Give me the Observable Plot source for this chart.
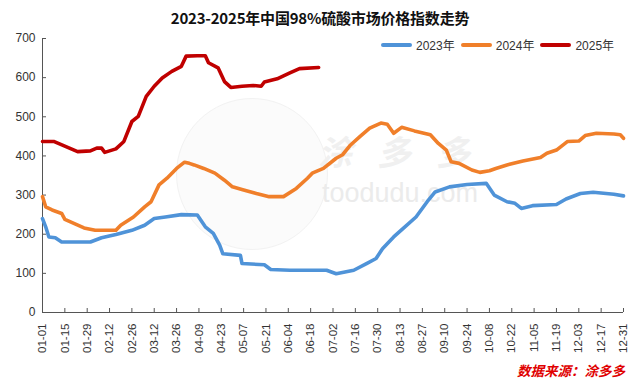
<!DOCTYPE html>
<html>
<head>
<meta charset="utf-8">
<script src="https://cdn.jsdelivr.net/npm/d3@7"></script>
<script src="https://cdn.jsdelivr.net/npm/@observablehq/plot@0.6"></script>
<style>
  html, body { margin: 0; padding: 0; background: #fff; }
  #wrap { position: relative; width: 640px; height: 385px; overflow: hidden; font-family: "Liberation Sans", Arial, sans-serif; }
  #wrap svg { position: absolute; left: 0; top: 0; }
  .title { position: absolute; left: 0; width: 640px; top: 7px; text-align: center; font-family: "Noto Sans CJK SC", sans-serif; font-weight: bold; font-size: 15px; color: #111; letter-spacing: -0.2px; }
  .legend { position: absolute; left: 381px; top: 36px; display: flex; align-items: center; font-size: 12px; color: #333; font-family: "Liberation Sans", "Noto Sans CJK SC", sans-serif; }
  .legend .sw { display: inline-block; width: 31px; height: 4px; border-radius: 2px; margin-right: 4px; }
  .legend .it { display: flex; align-items: center; margin-right: 6px; }
  .source { position: absolute; right: 15px; top: 362px; color: #e00000; font-family: "Noto Sans CJK SC", sans-serif; font-weight: bold; font-style: italic; font-size: 13.5px; line-height: 16px; }
  .wm1 { position: absolute; left: 318px; top: 134px; line-height: 34px; font-family: "Noto Sans CJK SC", sans-serif; font-weight: bold; font-style: italic; font-size: 34px; color: #f0f0f0; letter-spacing: 25px; }
  .wm2 { position: absolute; left: 322px; top: 181px; line-height: 24px; font-family: "Liberation Sans", Arial, sans-serif; font-size: 27px; color: #ebebeb; }
  .wm0 { position: absolute; left: 176px; top: 98px; width: 150px; height: 150px; border-radius: 50%; background: #fbfbfb; border: 1px solid #f2f2f2; }
</style>
</head>
<body>
<div id="wrap">
  <div class="wm0"></div>
  <div class="wm1">涂多多</div>
  <div class="wm2">toodudu.com</div>
  <div id="chart"></div>
  <div class="title">2023-2025年中国98%硫酸市场价格指数走势</div>
  <div class="legend" id="legend"></div>
  <div class="source">数据来源：涂多多</div>
</div>
<script>
const seriesNames = ["2023年", "2024年", "2025年"];
const seriesColors = ["#4F93D8", "#F07F2A", "#C00000"];

const tickLabels = ["01-01","01-15","01-29","02-12","02-26","03-12","03-26","04-09","04-23","05-07","05-21","06-04","06-18","07-02","07-16","07-30","08-13","08-27","09-10","09-24","10-08","10-22","11-05","11-19","12-03","12-17","12-31"];
const yTicks = [0, 100, 200, 300, 400, 500, 600, 700];

const dates2023 = ["01-01","01-03","01-05","01-09","01-13","01-31","02-07","02-16","02-26","03-06","03-12","03-19","03-29","04-08","04-13","04-18","04-22","04-24","05-05","05-06","05-20","05-24","06-05","06-28","07-04","07-15","07-23","07-29","08-02","08-09","08-15","08-23","08-30","09-04","09-13","09-24","10-06","10-11","10-19","10-24","10-28","11-04","11-19","11-25","12-04","12-12","12-25","12-31"];
const values2023 = [240,219,193,191,180,180,191,199,210,223,240,244,250,249,219,202,172,150,146,125,122,110,108,108,99,108,125,138,163,193,215,244,283,308,321,327,330,300,283,279,266,273,276,290,304,307,302,298];

const dates2024 = ["01-01","01-03","01-07","01-13","01-15","01-21","01-27","02-03","02-16","02-19","02-27","03-06","03-10","03-15","03-20","03-26","03-31","04-03","04-06","04-12","04-19","04-25","04-30","05-07","05-15","05-23","06-01","06-09","06-16","06-19","06-26","07-04","07-08","07-13","07-19","07-25","08-01","08-05","08-09","08-14","08-22","09-01","09-06","09-11","09-14","09-19","09-27","10-02","10-08","10-12","10-19","10-29","11-09","11-13","11-19","11-26","12-03","12-07","12-14","12-25","12-29","12-31"];
const values2024 = [296,270,262,253,238,227,216,210,210,223,244,270,283,326,343,368,384,381,377,368,356,338,321,313,304,296,296,317,343,356,368,394,403,428,450,471,484,481,458,473,464,454,432,415,385,381,364,358,362,368,377,387,396,407,415,437,438,452,458,456,454,445];

const dates2025 = ["01-01","01-08","01-23","01-31","02-04","02-07","02-09","02-16","02-21","02-26","03-02","03-07","03-12","03-17","03-23","03-29","04-01","04-08","04-13","04-15","04-21","04-25","04-29","05-06","05-13","05-18","05-20","05-28","06-05","06-11","06-23"];
const values2025 = [437,437,411,413,420,420,409,418,437,488,501,552,578,599,616,629,655,656,656,638,625,590,575,578,580,578,589,597,612,623,626];

const toDate = s => { const [m, d] = s.split("-").map(Number); return new Date(Date.UTC(2023, m - 1, d)); };

const rows = [];
[[dates2023, values2023], [dates2024, values2024], [dates2025, values2025]].forEach(([ds, vs], i) => {
  ds.forEach((d, j) => rows.push({ series: seriesNames[i], date: toDate(d), value: vs[j] }));
});
const tickDates = tickLabels.map(toDate);
const fmt = d3.utcFormat("%m-%d");

const chart = Plot.plot({
  width: 640,
  height: 385,
  marginLeft: 42,
  marginRight: 17,
  marginTop: 38,
  marginBottom: 73,
  style: { background: "transparent", fontFamily: "Liberation Sans, Arial, sans-serif", fontSize: "12px", color: "#333" },
  x: { type: "utc", domain: [tickDates[0], tickDates[tickDates.length - 1]], label: null },
  y: { domain: [0, 700], label: null },
  color: { domain: seriesNames, range: seriesColors },
  marks: [
    Plot.ruleY([0], { stroke: "#555", strokeWidth: 1 }),
    Plot.ruleX([tickDates[0]], { stroke: "#555", strokeWidth: 1 }),
    Plot.axisY(yTicks, { tickSize: -4, text: null, stroke: "#555", label: null }),
    Plot.axisY(yTicks, { tickSize: 0, tickPadding: 7, fontSize: 12, fill: "#333", label: null }),
    Plot.axisX(tickDates, { tickSize: -4, text: null, stroke: "#555", label: null }),
    Plot.axisX(tickDates, { tickSize: 0, tickPadding: 11, tickRotate: -90, tickFormat: fmt, fontSize: 11.5, fill: "#333", label: null }),
    Plot.lineY(rows, { x: "date", y: "value", z: "series", stroke: "series", strokeWidth: 3.6, strokeLinejoin: "round", strokeLinecap: "round" })
  ]
});
document.getElementById("chart").appendChild(chart);

const lg = document.getElementById("legend");
seriesNames.forEach((n, i) => {
  const it = document.createElement("span");
  it.className = "it";
  it.innerHTML = `<span class="sw" style="background:${seriesColors[i]}"></span><span>${n}</span>`;
  lg.appendChild(it);
});
</script>
</body>
</html>
